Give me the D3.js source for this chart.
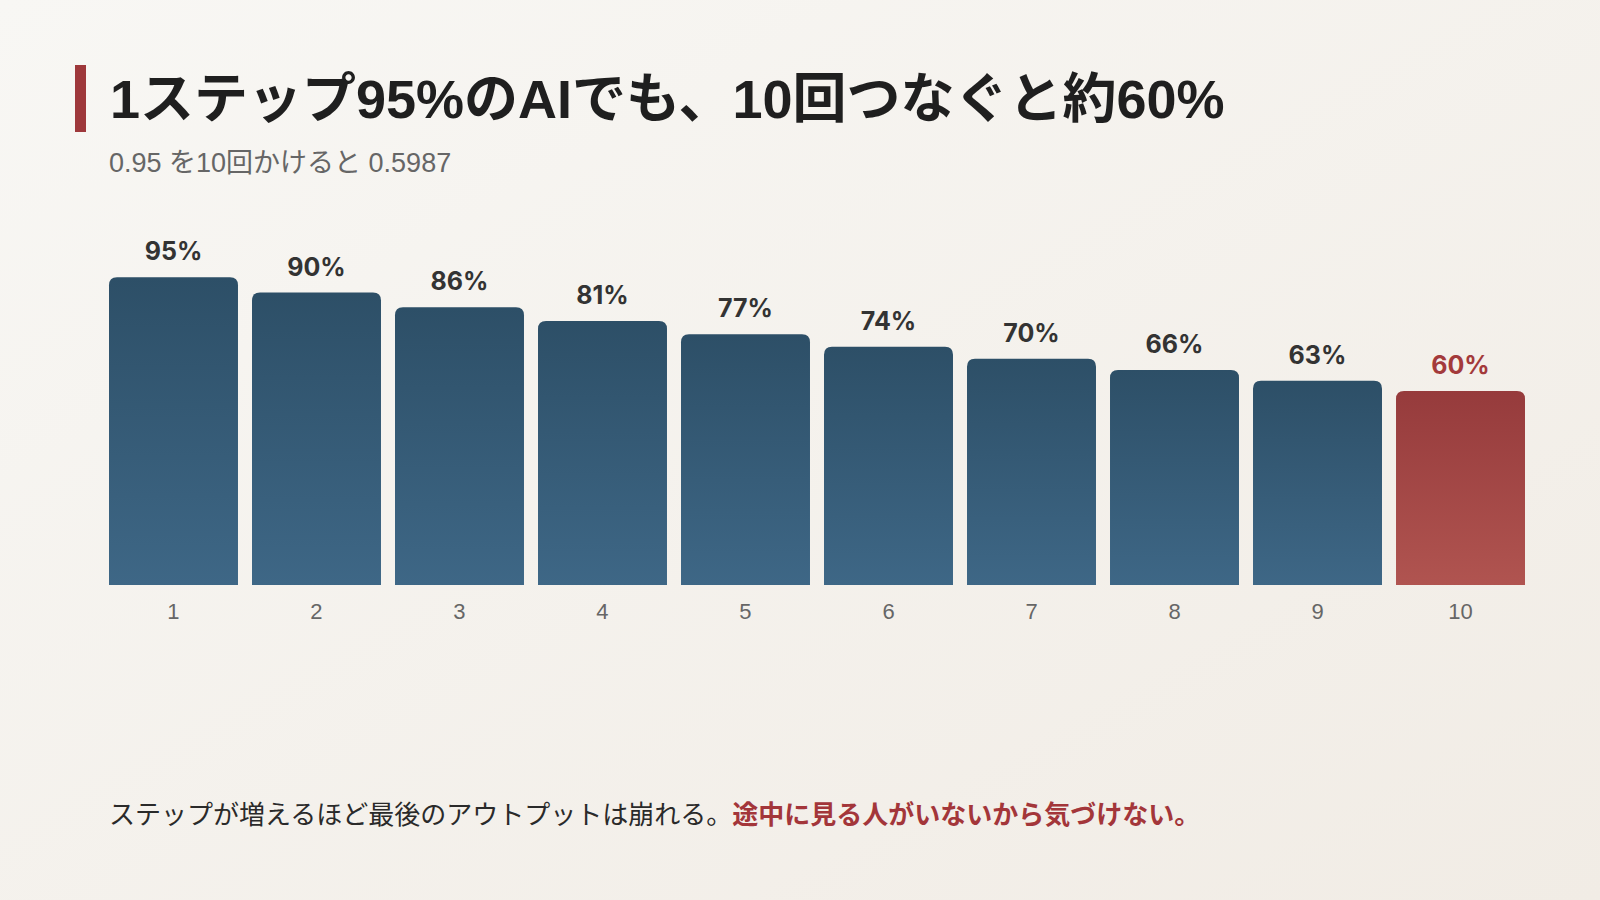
<!DOCTYPE html>
<html lang="ja">
<head>
<meta charset="utf-8">
<script src="https://cdn.jsdelivr.net/npm/d3@7"></script>
<style>
  html, body { margin: 0; padding: 0; }
  body { width: 1600px; height: 900px; overflow: hidden; }
  text { font-family: "Liberation Sans", "Noto Sans CJK JP", sans-serif; }
  text.jp { font-family: "Noto Sans CJK JP", sans-serif; }
</style>
</head>
<body>
<div id="chart"></div>
<script>
const steps = [1, 2, 3, 4, 5, 6, 7, 8, 9, 10];
const successRates = [0.95, 0.9025, 0.857, 0.8145, 0.7738, 0.7351, 0.6983, 0.6634, 0.6302, 0.5987];
const rateLabels = ["95%", "90%", "86%", "81%", "77%", "74%", "70%", "66%", "63%", "60%"];

const width = 1600;
const height = 900;

const svg = d3.select("#chart")
    .append("svg")
    .attr("width", width)
    .attr("height", height);

const defs = svg.append("defs");

// page background, a soft warm gradient
const bg = defs.append("linearGradient")
    .attr("id", "bg")
    .attr("x1", "0%").attr("y1", "0%")
    .attr("x2", "100%").attr("y2", "100%");
bg.append("stop").attr("offset", "0%").attr("stop-color", "#f8f7f4");
bg.append("stop").attr("offset", "100%").attr("stop-color", "#f1ece5");

const blue = defs.append("linearGradient")
    .attr("id", "barBlue")
    .attr("x1", "0").attr("y1", "0").attr("x2", "0").attr("y2", "1");
blue.append("stop").attr("offset", "0%").attr("stop-color", "#2d4f67");
blue.append("stop").attr("offset", "100%").attr("stop-color", "#3e6786");

const red = defs.append("linearGradient")
    .attr("id", "barRed")
    .attr("x1", "0").attr("y1", "0").attr("x2", "0").attr("y2", "1");
red.append("stop").attr("offset", "0%").attr("stop-color", "#963b3c");
red.append("stop").attr("offset", "100%").attr("stop-color", "#b05450");

svg.append("rect")
    .attr("width", width)
    .attr("height", height)
    .attr("fill", "url(#bg)");

// Title with red accent bar
svg.append("rect")
    .attr("x", 75)
    .attr("y", 65)
    .attr("width", 11)
    .attr("height", 67)
    .attr("fill", "#9e383b");

svg.append("text")
    .attr("x", 110)
    .attr("y", 118)
    .attr("font-size", 54)
    .attr("font-weight", 700)
    .attr("fill", "#1f1f1f")
    .text("1ステップ95%のAIでも、10回つなぐと約60%");

svg.append("text")
    .attr("x", 109)
    .attr("y", 172)
    .attr("font-size", 27)
    .attr("fill", "#666")
    .text("0.95 を10回かけると 0.5987");

// Scales
const x = d3.scaleBand()
    .domain(steps)
    .range([109, 1525])
    .paddingInner(0.098)
    .paddingOuter(0);

const y = d3.scaleLinear()
    .domain([0, 1])
    .range([585, 261]);

const last = steps[steps.length - 1];
const r = 8;

// bar path: rounded top corners, square bottom
function barPath(d, i) {
    const x0 = x(d);
    const x1 = x0 + x.bandwidth();
    const y0 = y(successRates[i]);
    const yb = y(0);
    return `M${x0},${yb} L${x0},${y0 + r} Q${x0},${y0} ${x0 + r},${y0}` +
        ` L${x1 - r},${y0} Q${x1},${y0} ${x1},${y0 + r} L${x1},${yb} Z`;
}

const bars = svg.append("g");

bars.selectAll("path")
    .data(steps)
    .enter()
    .append("path")
    .attr("d", barPath)
    .attr("fill", d => d === last ? "url(#barRed)" : "url(#barBlue)");

bars.selectAll("text.value")
    .data(steps)
    .enter()
    .append("text")
    .attr("class", "value")
    .attr("x", d => x(d) + x.bandwidth() / 2)
    .attr("y", (d, i) => y(successRates[i]) - 17)
    .attr("text-anchor", "middle")
    .attr("font-size", 25)
    .attr("font-weight", 700)
    .style("font-family", "Inter, \"Liberation Sans\", sans-serif")
    .attr("fill", d => d === last ? "#a33a3b" : "#333")
    .text((d, i) => rateLabels[i]);

// x axis labels
const xAxis = d3.axisBottom(x).tickSize(0).tickPadding(0);
const axisG = svg.append("g")
    .attr("transform", `translate(0, ${y(0)})`)
    .call(xAxis);
axisG.select(".domain").remove();
axisG.attr("font-family", null);
axisG.selectAll("text")
    .attr("dy", null)
    .attr("y", 34)
    .attr("font-size", 22)
    .attr("fill", "#666");

// footer message
const foot = svg.append("text")
    .attr("class", "jp")
    .attr("x", 109)
    .attr("y", 824)
    .attr("font-size", 26);
foot.append("tspan")
    .attr("fill", "#2a2a2a")
    .text("ステップが増えるほど最後のアウトプットは崩れる。");
foot.append("tspan")
    .attr("fill", "#a3363a")
    .attr("font-weight", 700)
    .text("途中に見る人がいないから気づけない。");
</script>
</body>
</html>
